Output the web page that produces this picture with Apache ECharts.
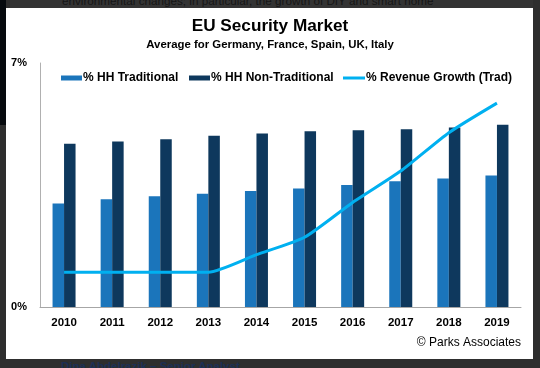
<!DOCTYPE html>
<html>
<head>
<meta charset="utf-8">
<script src="https://cdn.jsdelivr.net/npm/echarts@6/dist/echarts.min.js"></script>
<style>
  html, body { margin:0; padding:0; }
  body { width:540px; height:368px; background:#2e2e2e; position:relative; overflow:hidden; font-family:"Liberation Sans", Arial, sans-serif; }
  #leftstrip { position:absolute; left:0; top:0; width:6px; height:125px; background:#060a0e; }
  #topstrip { position:absolute; left:10px; top:0; width:523px; height:8px; background:#333333; overflow:hidden; }
  #toptext { position:absolute; left:52px; top:-6px; font-size:11.7px; color:#151515; white-space:nowrap; line-height:14px; }
  #bottext { position:absolute; left:61px; top:359px; font-size:11.5px; font-weight:bold; color:#1c2f55; white-space:nowrap; line-height:14px; }
  #paper { position:absolute; left:6px; top:8px; width:527px; height:351px; background:#ffffff; }
  #chart { position:absolute; left:0; top:0; width:540px; height:368px; }
</style>
</head>
<body>
<div id="leftstrip"></div>
<div id="topstrip"><div id="toptext">environmental changes; in particular, the growth of DIY and smart home</div></div>
<div id="bottext">Dina Abdelrazik – Senior Analyst</div>
<div id="paper"></div>
<div id="chart"></div>
<script>
const categories = ['2010','2011','2012','2013','2014','2015','2016','2017','2018','2019'];
const hhTraditional = [2.97, 3.09, 3.18, 3.25, 3.33, 3.40, 3.50, 3.61, 3.69, 3.77];
const hhNonTraditional = [4.68, 4.75, 4.81, 4.91, 4.98, 5.04, 5.07, 5.10, 5.15, 5.23];
const revenueGrowth = [1.0, 1.0, 1.0, 1.0, 1.5, 2.0, 3.0, 3.9, 5.0, 5.85];
const seriesNames = ['% HH Traditional', '% HH Non-Traditional', '% Revenue Growth (Trad)'];
const yTicks = ['0%', '7%'];

const FONT = '"Liberation Sans", Arial, sans-serif';
const C_LIGHT = '#1b75bb', C_DARK = '#0e385d', C_LINE = '#00b0f0';

const chart = echarts.init(document.getElementById('chart'), null, { renderer: 'canvas' });
const legendText = { fontFamily: FONT, fontWeight: 'bold', fontSize: 12, color: '#000', padding: [0, 0, 0, -4] };
chart.setOption({
  backgroundColor: 'transparent',
  animation: false,
  graphic: [
    { type: 'text', left: 'center', top: 18, style: { text: 'EU Security Market', font: 'bold 17.2px ' + FONT, fill: '#000' } },
    { type: 'text', left: 'center', top: 39, style: { text: 'Average for Germany, France, Spain, UK, Italy', font: 'bold 11.4px ' + FONT, fill: '#000' } },
    { type: 'text', right: 19, top: 337, style: { text: '© Parks Associates', font: '12px ' + FONT, fill: '#000' } }
  ],
  legend: [
    { data: [seriesNames[0]], left: 61, top: 72, padding: 0, itemWidth: 21, itemHeight: 5, icon: 'rect', textStyle: legendText },
    { data: [seriesNames[1]], left: 189, top: 72, padding: 0, itemWidth: 21, itemHeight: 5, icon: 'rect', textStyle: legendText },
    { data: [seriesNames[2]], left: 343, top: 72, padding: 0, itemWidth: 22, itemHeight: 3, icon: 'rect', textStyle: legendText }
  ],
  grid: { left: 40, right: 19, top: 63, bottom: 61 },
  xAxis: {
    type: 'category',
    data: categories,
    axisTick: { show: false },
    axisLine: { lineStyle: { color: '#a6a6a6', width: 1 } },
    axisLabel: { fontFamily: FONT, fontWeight: 'bold', fontSize: 11.5, color: '#000', margin: 10 }
  },
  yAxis: {
    type: 'value', min: 0, max: 7, interval: 7,
    splitLine: { show: false },
    axisTick: { show: false },
    axisLine: { show: true, lineStyle: { color: '#b0b0b0', width: 1 } },
    axisLabel: { fontFamily: FONT, fontWeight: 'bold', fontSize: 11, color: '#000', margin: 13,
      formatter: v => yTicks[v === 0 ? 0 : 1] }
  },
  series: [
    { name: seriesNames[0], type: 'bar', data: hhTraditional, barWidth: 11.5, barGap: '0%', itemStyle: { color: C_LIGHT } },
    { name: seriesNames[1], type: 'bar', data: hhNonTraditional, barWidth: 11.5, barGap: '0%', itemStyle: { color: C_DARK } },
    { name: seriesNames[2], type: 'line', data: revenueGrowth, smooth: 0.2, symbol: 'none',
      lineStyle: { color: C_LINE, width: 3 }, itemStyle: { color: C_LINE }, z: 5 }
  ]
});
</script>
</body>
</html>
